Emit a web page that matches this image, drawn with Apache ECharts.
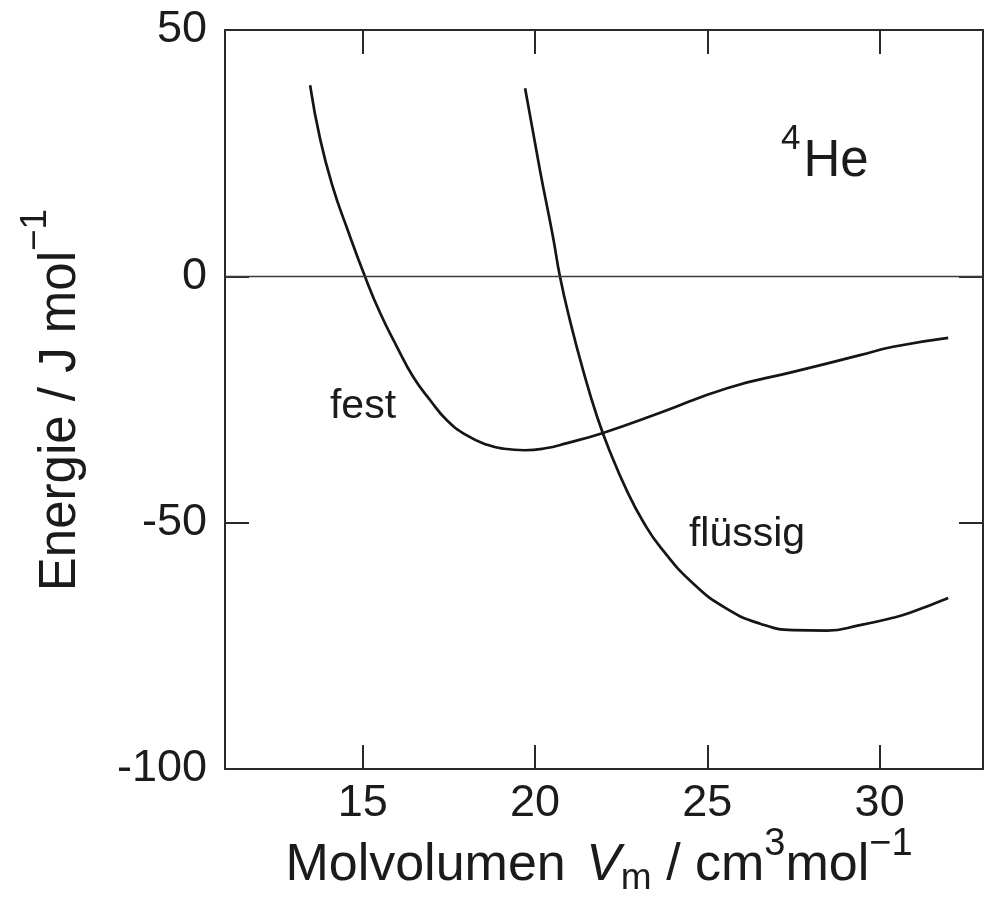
<!DOCTYPE html>
<html>
<head>
<meta charset="utf-8">
<script src="https://cdn.jsdelivr.net/npm/echarts@6/dist/echarts.min.js"></script>
<style>
html,body{margin:0;padding:0;background:#fff;}
#chart{width:993px;height:901px;}
</style>
</head>
<body>
<div id="chart"></div>
<script>
// Data
const festX = [13.47, 13.76, 14.13, 14.54, 15.06, 15.50, 15.99, 16.46, 16.95, 17.44, 18.02, 18.61, 19.10, 19.70, 20.30, 20.90, 21.97, 23.63, 25.57, 27.49, 29.43, 30.39, 31.99];
const festY = [38.8, 27.9, 18.1, 9.8, 0, -7.4, -14.3, -20.4, -25.1, -29.2, -32.3, -34.2, -35.0, -35.3, -34.9, -33.9, -31.8, -27.7, -22.7, -19.4, -16.0, -14.3, -12.5];
const fluessigX = [19.71, 20.14, 20.52, 20.72, 21.01, 21.39, 21.80, 22.18, 22.67, 23.13, 23.63, 24.58, 25.57, 26.53, 27.49, 28.47, 29.43, 30.39, 30.88, 31.99];
const fluessigY = [38.2, 21.6, 8.0, 0, -8.9, -19.0, -28.5, -35.7, -43.6, -49.7, -54.9, -62.3, -67.5, -70.5, -71.8, -71.9, -70.8, -69.3, -68.3, -65.3];
const xTicks = [15, 20, 25, 30];
const yTicks = [-100, -50, 0, 50];

const FONT = "'Liberation Sans', Arial, Helvetica, sans-serif";
const INK = '#1b1b1b';
const FRAME = '#2a2a2a';

function pairs(xs, ys) { return xs.map((x, i) => [x, ys[i]]); }

const chart = echarts.init(document.getElementById('chart'), null, { renderer: 'canvas' });

function xAxisCfg(pos, showLabel) {
  return {
    type: 'value', min: 11, max: 33, position: pos,
    axisLine: { show: true, onZero: false, lineStyle: { color: FRAME, width: 2 } },
    axisTick: { show: true, inside: true, length: 24, customValues: xTicks, lineStyle: { color: FRAME, width: 2 } },
    axisLabel: { show: showLabel, customValues: xTicks, fontSize: 45, fontFamily: FONT, color: INK, margin: 12 },
    splitLine: { show: false }
  };
}
function yAxisCfg(pos, showLabel) {
  return {
    type: 'value', min: -100, max: 50, interval: 50, position: pos,
    axisLine: { show: true, onZero: false, lineStyle: { color: FRAME, width: 2 } },
    axisTick: { show: true, inside: true, length: 24, customValues: yTicks, lineStyle: { color: FRAME, width: 2 } },
    axisLabel: { show: showLabel, customValues: yTicks, fontSize: 45, fontFamily: FONT, color: INK, margin: 18 },
    splitLine: { show: false }
  };
}

const option = {
  backgroundColor: '#fff',
  animation: false,
  grid: { left: 225, top: 30, right: 10, bottom: 132, containLabel: false },
  xAxis: [xAxisCfg('bottom', true), xAxisCfg('top', false)],
  yAxis: [yAxisCfg('left', true), yAxisCfg('right', false)],
  series: [
    {
      name: 'fest', type: 'line', xAxisIndex: 0, yAxisIndex: 0,
      data: pairs(festX, festY), smooth: 0.5, symbol: 'none',
      lineStyle: { color: '#151515', width: 2.7 },
      markLine: {
        silent: true, symbol: ['none', 'none'], label: { show: false },
        lineStyle: { color: '#3a3a3a', width: 1.4, type: 'solid' },
        data: [{ yAxis: 0 }]
      },
      z: 3
    },
    {
      name: 'flüssig', type: 'line', xAxisIndex: 0, yAxisIndex: 0,
      data: pairs(fluessigX, fluessigY), smooth: 0.5, symbol: 'none',
      lineStyle: { color: '#151515', width: 2.7 },
      z: 3
    }
  ],
  graphic: [
    {
      type: 'text', x: 599, y: 866,
      style: {
        text: '{a|Molvolumen }{i|V}{sub|m}{a| / cm}{sup|3}{a|mol}{sup|−1}',
        align: 'center', verticalAlign: 'middle', fill: INK,
        rich: {
          a: { fontSize: 52, fontFamily: FONT, lineHeight: 80, fill: INK },
          i: { fontSize: 52, fontFamily: FONT, fontStyle: 'italic', lineHeight: 80, fill: INK, padding: [0, 0, 0, 6] },
          sub: { fontSize: 37, fontFamily: FONT, lineHeight: 37, verticalAlign: 'bottom', fill: INK, padding: [0, 0, 9, 0] },
          sup: { fontSize: 38, fontFamily: FONT, lineHeight: 38, verticalAlign: 'top', fill: INK }
        }
      }
    },
    {
      type: 'text', x: 61, y: 400, rotation: Math.PI / 2,
      style: {
        text: '{a|Energie / J mol}{sup|−1}',
        align: 'center', verticalAlign: 'middle', fill: INK,
        rich: {
          a: { fontSize: 51, fontFamily: FONT, lineHeight: 88, fill: INK },
          sup: { fontSize: 37, fontFamily: FONT, lineHeight: 37, verticalAlign: 'top', fill: INK }
        }
      }
    },
    {
      type: 'text', x: 781, y: 162,
      style: {
        text: '{sup|4}{a|He}',
        align: 'left', verticalAlign: 'middle', fill: INK,
        rich: {
          a: { fontSize: 51, fontFamily: FONT, lineHeight: 80, fill: INK, padding: [0, 0, 0, 3] },
          sup: { fontSize: 35, fontFamily: FONT, lineHeight: 35, verticalAlign: 'top', fill: INK }
        }
      }
    },
    {
      type: 'text', x: 363, y: 407,
      style: { text: 'fest', align: 'center', verticalAlign: 'middle', fontSize: 41, fontFamily: FONT, fill: INK }
    },
    {
      type: 'text', x: 747, y: 535,
      style: { text: 'flüssig', align: 'center', verticalAlign: 'middle', fontSize: 41, fontFamily: FONT, fill: INK }
    }
  ]
};

chart.setOption(option);
</script>
</body>
</html>
